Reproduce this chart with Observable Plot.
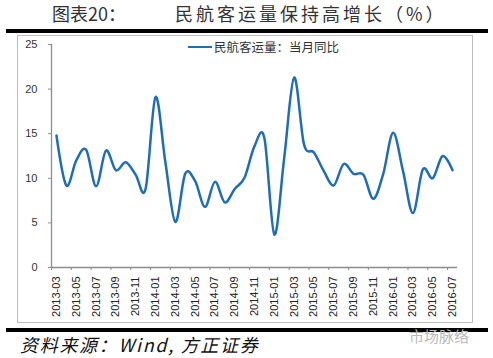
<!DOCTYPE html>
<html><head><meta charset="utf-8">
<script src="https://cdn.jsdelivr.net/npm/d3@7"></script>
<script src="https://cdn.jsdelivr.net/npm/@observablehq/plot@0.6"></script>
<style>
body{margin:0;background:#fff;}
#wrap{position:relative;width:493px;height:358px;overflow:hidden;font-family:"Noto Sans CJK SC",sans-serif;background:#fff;}
.abs{position:absolute;white-space:nowrap;}
#box{left:17px;top:35px;width:454px;height:286px;border:1px solid #bdbdbd;}
.thick{left:6px;width:482px;height:4px;background:#000;}
#t1{left:52px;top:0px;font-size:18px;color:#333;letter-spacing:0px;}
#t2{left:175px;top:0px;font-size:18px;color:#333;letter-spacing:3px;}
#legline{left:188px;top:46px;width:24px;height:0;border-top:2.5px solid #1f6db5;}
#legtext{left:214px;top:39px;font-size:12.5px;color:#333;line-height:16px;}
#cap{left:20px;top:333px;font-size:18px;font-style:italic;color:#111;line-height:22px;letter-spacing:1.7px;}
#wm{left:409px;top:325px;font-size:15px;color:#b9b9b9;}
#chart{position:absolute;left:0;top:0;}
</style></head><body>
<div id="wrap">
  <div class="abs" id="box"></div>
  <div class="abs thick" style="top:29px"></div>
  <div class="abs thick" style="top:328px"></div>
  <div class="abs" id="t1">图表20：</div>
  <div class="abs" id="t2">民航客运量保持高增长（%）</div>
  <div class="abs" id="cap">资料来源：Wind, 方正证券</div>
  <div class="abs" id="wm">市场脉络</div>
  <div id="chart"></div>
  <div class="abs" id="legline"></div>
  <div class="abs" id="legtext"></div>
</div>
<script>
const seriesName = "民航客运量：当月同比";
const months = [
  "2013-03","2013-04","2013-05","2013-06","2013-07","2013-08","2013-09","2013-10","2013-11","2013-12",
  "2014-01","2014-02","2014-03","2014-04","2014-05","2014-06","2014-07","2014-08","2014-09","2014-10","2014-11","2014-12",
  "2015-01","2015-02","2015-03","2015-04","2015-05","2015-06","2015-07","2015-08","2015-09","2015-10","2015-11","2015-12",
  "2016-01","2016-02","2016-03","2016-04","2016-05","2016-06","2016-07"
];
const values = [
  14.8, 9.2, 12.0, 13.2, 9.1, 13.1, 10.9, 11.8, 10.4, 8.8,
  19.1, 11.8, 5.1, 10.5, 9.7, 6.8, 9.6, 7.3, 8.8, 10.1, 13.6, 14.5,
  3.7, 12.3, 21.3, 13.8, 12.9, 10.8, 9.2, 11.6, 10.5, 10.4, 7.7, 10.5,
  15.1, 10.8, 6.1, 11.0, 10.0, 12.5, 10.9
];
const yTicks = [0, 5, 10, 15, 20, 25];

document.getElementById("legtext").textContent = seriesName;

const data = months.map((m, i) => ({i, m, v: values[i]}));
const labelIdx = months.map((m, i) => i).filter(i => i % 2 === 0);
const tickBounds = labelIdx.map(i => i - 0.5);
const axisColor = "#8c8c8c";

const chart = Plot.plot({
  width: 493, height: 358,
  marginTop: 44, marginBottom: 91, marginLeft: 51, marginRight: 36,
  style: {background: "transparent", fontFamily: "'Liberation Sans', sans-serif", fontSize: "11px", color: "#333"},
  x: {domain: [-0.5, months.length - 0.5], axis: null},
  y: {domain: [0, 25], axis: null},
  marks: [
    Plot.ruleX([-0.5], {stroke: axisColor, strokeWidth: 1.3}),
    Plot.ruleY([0], {stroke: axisColor, strokeWidth: 1.3}),
    Plot.axisY({ticks: yTicks, tickSize: 3, tickPadding: 11, stroke: axisColor, fill: "#333", label: null, fontSize: 11}),
    Plot.axisX({ticks: tickBounds, tickSize: 3, tickFormat: () => "", stroke: axisColor, label: null}),
    Plot.axisX({ticks: labelIdx, tickSize: 0, tickPadding: 9, tickRotate: -90, tickFormat: i => months[i], fill: "#222", label: null, fontSize: 11}),
    Plot.line(data, {x: "i", y: "v", stroke: "#1f6db5", strokeWidth: 2.5, curve: "cardinal", tension: 0})
  ]
});
document.getElementById("chart").appendChild(chart);
</script>
</body></html>
